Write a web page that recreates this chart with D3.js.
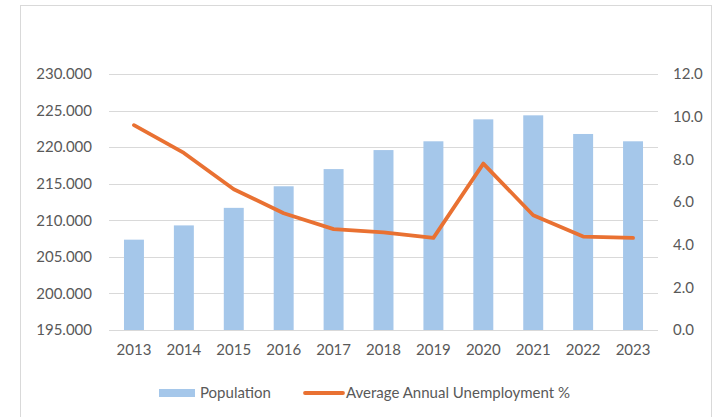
<!DOCTYPE html>
<html>
<head>
<meta charset="utf-8">
<script src="https://cdn.jsdelivr.net/npm/d3@7"></script>
<style>
  body { margin: 0; background: #fff; }
  text { font-family: Lato, "Open Sans", sans-serif; fill: #595959; }
</style>
</head>
<body>
<svg id="chart" width="717" height="417"></svg>
<script>
const years = ['2013', '2014', '2015', '2016', '2017', '2018', '2019', '2020', '2021', '2022', '2023'];
const population = [207350, 209300, 211700, 214650, 217000, 219600, 220800, 223800, 224350, 221800, 220800];
const unemployment = [9.6, 8.3, 6.6, 5.47, 4.73, 4.58, 4.32, 7.8, 5.38, 4.38, 4.32];
const leftTicks = [195000, 200000, 205000, 210000, 215000, 220000, 225000, 230000];
const rightTicks = [0, 2, 4, 6, 8, 10, 12];

const svg = d3.select('#chart');

// chart frame
svg.append('rect')
    .attr('x', 20.5).attr('y', 5.5)
    .attr('width', 691).attr('height', 420)
    .attr('fill', 'none')
    .attr('stroke', '#d9d9d9');

const plot = { left: 109, right: 658, top: 74, bottom: 330 };

const x = d3.scaleBand()
    .domain(years)
    .range([plot.left, plot.right])
    .paddingInner(0.6)
    .paddingOuter(0.3);

const yLeft = d3.scaleLinear().domain([195000, 230000]).range([plot.bottom, plot.top]);
const yRight = d3.scaleLinear().domain([0, 12]).range([plot.bottom, plot.top]);

// gridlines
svg.append('g')
    .selectAll('line')
    .data(leftTicks)
    .join('line')
    .attr('x1', plot.left).attr('x2', plot.right)
    .attr('y1', d => Math.round(yLeft(d)) + 0.5)
    .attr('y2', d => Math.round(yLeft(d)) + 0.5)
    .attr('stroke', '#d9d9d9')
    .attr('stroke-width', 1);

// left axis (values shown with "." as thousands separator)
const leftAxis = svg.append('g')
    .attr('transform', `translate(${plot.left},0)`)
    .call(d3.axisLeft(yLeft).tickValues(leftTicks).tickSize(0).tickPadding(17)
        .tickFormat(d => (d / 1000).toFixed(3)));
leftAxis.select('.domain').remove();
leftAxis.selectAll('text').style('font-size', '15px').attr('fill', '#595959');

// right axis
const rightAxis = svg.append('g')
    .attr('transform', `translate(${plot.right},0)`)
    .call(d3.axisRight(yRight).tickValues(rightTicks).tickSize(0).tickPadding(15)
        .tickFormat(d3.format('.1f')));
rightAxis.select('.domain').remove();
rightAxis.selectAll('text').style('font-size', '15px').attr('fill', '#595959');

// bars
svg.append('g')
    .selectAll('rect')
    .data(population)
    .join('rect')
    .attr('x', (d, i) => x(years[i]))
    .attr('width', x.bandwidth())
    .attr('y', d => yLeft(d))
    .attr('height', d => plot.bottom - yLeft(d))
    .attr('fill', '#a5c7ea');

// bottom axis
const bottomAxis = svg.append('g')
    .attr('transform', `translate(0,${plot.bottom})`)
    .call(d3.axisBottom(x).tickSize(0).tickPadding(14));
bottomAxis.select('.domain').remove();
bottomAxis.selectAll('text').style('font-size', '15px').attr('fill', '#595959');

// unemployment line
const line = d3.line()
    .x((d, i) => x(years[i]) + x.bandwidth() / 2)
    .y(d => yRight(d));

svg.append('path')
    .datum(unemployment)
    .attr('d', line)
    .attr('fill', 'none')
    .attr('stroke', '#e97132')
    .attr('stroke-width', 3.8)
    .attr('stroke-linejoin', 'round')
    .attr('stroke-linecap', 'round');

// legend
const legend = svg.append('g').attr('transform', 'translate(0,393)');
legend.append('rect')
    .attr('x', 159).attr('y', -4)
    .attr('width', 36).attr('height', 8)
    .attr('fill', '#a5c7ea');
legend.append('text')
    .attr('x', 200).attr('y', 5)
    .style('font-size', '15px')
    .text('Population');
legend.append('line')
    .attr('x1', 305).attr('x2', 343)
    .attr('y1', 0).attr('y2', 0)
    .attr('stroke', '#e97132')
    .attr('stroke-width', 3.8)
    .attr('stroke-linecap', 'round');
legend.append('text')
    .attr('x', 346).attr('y', 5)
    .style('font-size', '15px')
    .text('Average Annual Unemployment %');
</script>
</body>
</html>
